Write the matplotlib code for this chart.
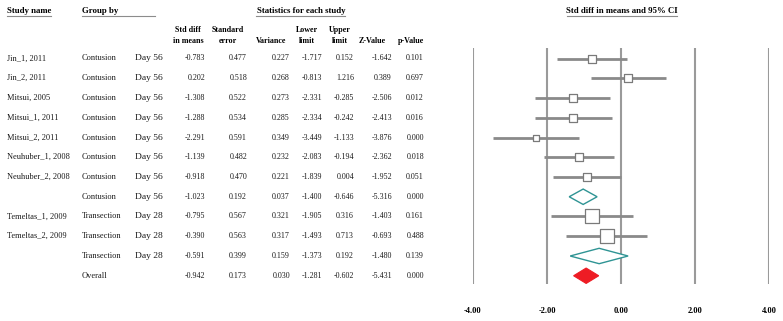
import matplotlib.pyplot as plt
from matplotlib.patches import Polygon
import numpy as np

plt.rcParams['font.family'] = ['Liberation Serif', 'DejaVu Serif']

# DATA
studies = ['Jin_1, 2011', 'Jin_2, 2011', 'Mitsui, 2005', 'Mitsui_1, 2011', 'Mitsui_2, 2011',
           'Neuhuber_1, 2008', 'Neuhuber_2, 2008', '', 'Temeltas_1, 2009', 'Temeltas_2, 2009',
           '', '']
groups = ['Contusion'] * 8 + ['Transection'] * 3 + ['Overall']
times = ['Day 56'] * 8 + ['Day 28'] * 3 + ['']
kinds = ['study'] * 7 + ['sub'] + ['study'] * 2 + ['sub', 'overall']
smd = [-0.783, 0.202, -1.308, -1.288, -2.291, -1.139, -0.918, -1.023, -0.795, -0.390, -0.591, -0.942]
se = [0.477, 0.518, 0.522, 0.534, 0.591, 0.482, 0.470, 0.192, 0.567, 0.563, 0.399, 0.173]
var = [0.227, 0.268, 0.273, 0.285, 0.349, 0.232, 0.221, 0.037, 0.321, 0.317, 0.159, 0.030]
lower = [-1.717, -0.813, -2.331, -2.334, -3.449, -2.083, -1.839, -1.400, -1.905, -1.493, -1.373, -1.281]
upper = [0.152, 1.216, -0.285, -0.242, -1.133, -0.194, 0.004, -0.646, 0.316, 0.713, 0.192, -0.602]
zval = [-1.642, 0.389, -2.506, -2.413, -3.876, -2.362, -1.952, -5.316, -1.403, -0.693, -1.480, -5.431]
pval = [0.101, 0.697, 0.012, 0.016, 0.000, 0.018, 0.051, 0.000, 0.161, 0.488, 0.139, 0.000]
xticks = [-4, -2, 0, 2, 4]

W, H = 783, 321
fig = plt.figure(figsize=(W / 100, H / 100), dpi=100)

# rows: row i sits at y = 58.5 + 19.75*i pixels from top
y0, dy = 58.5, 19.75
ylim = ((H - y0) / dy, -y0 / dy)
row = lambda ypx: (ypx - y0) / dy

tab = fig.add_axes([0, 0, 1, 1])
tab.set_xlim(0, W)
tab.set_ylim(*ylim)
tab.axis('off')

ax = fig.add_axes([473 / W, 0, (769 - 473) / W, 1])
ax.set_xlim(-4, 4)
ax.set_ylim(*ylim)
ax.axis('off')
ax.patch.set_visible(False)

# grid lines
ax.vlines(xticks, row(48), row(284), color='#9a9a9a', lw=1.5, zorder=1)
for t in xticks:
    ax.text(t, row(311), '%.2f' % t, ha='center', va='center', fontsize=6, fontweight='bold')

# relative weights within subgroup for box size
n = len(smd)
w = np.array([1 / v for v in var])
grp = np.array(groups)
kd = np.array(kinds)
rel = np.zeros(n)
for g in set(groups):
    m = (grp == g) & (kd == 'study')
    if m.any():
        rel[m] = w[m] / w[m].sum()

for i in range(n):
    if kinds[i] == 'study':
        ax.hlines(i, lower[i], upper[i], color='#8a8a8a', lw=2, zorder=2)
        px = 20.5 * np.sqrt(rel[i])
        ax.scatter([smd[i]], [i], marker='s', s=(px * 0.72) ** 2, facecolor='white',
                   edgecolor='#7a7a7a', linewidth=0.9, zorder=3)
    else:
        h = 0.39
        pts = [(lower[i], i), (smd[i], i - h), (upper[i], i), (smd[i], i + h)]
        if kinds[i] == 'overall':
            poly = Polygon(pts, closed=True, facecolor='#ee1c24', edgecolor='#ee1c24', lw=0.8, zorder=3)
        else:
            poly = Polygon(pts, closed=True, facecolor='white', edgecolor='#2f9494', lw=1.0, zorder=3)
        ax.add_patch(poly)

# table text
fs = 5.8
txt = '#1a1a1a'
cols = [(205, smd), (247, se), (290, var), (322, lower), (354, upper), (392, zval), (424, pval)]
for i in range(n):
    tab.text(7, i, studies[i], ha='left', va='center', fontsize=6, color=txt)
    tab.text(82, i, groups[i], ha='left', va='center', fontsize=6, color=txt)
    tab.text(135, i, times[i], ha='left', va='center', fontsize=6.8, color=txt)
    for x, vals in cols:
        tab.text(x, i, '%.3f' % vals[i], ha='right', va='center', fontsize=fs, color=txt)

# headers
hb = dict(fontsize=6.3, fontweight='bold', va='center')
tab.text(7, row(11), 'Study name', ha='left', **hb)
tab.text(82, row(11), 'Group by', ha='left', **hb)
tab.text(257, row(11), 'Statistics for each study', ha='left', **hb)
tab.text(622, row(11), 'Std diff in means and 95% CI', ha='center', **hb)
for x0, x1 in [(7, 51), (82, 155), (256, 345), (567, 677)]:
    tab.plot([x0, x1], [row(16), row(16)], color='#8c8c8c', lw=0.8)

hs = dict(fontsize=5.8, fontweight='bold', va='center', ha='center')
two_line = [(188, 'Std diff', 'in means'), (228, 'Standard', 'error'),
            (307, 'Lower', 'limit'), (340, 'Upper', 'limit')]
for x, a, b in two_line:
    tab.text(x, row(30.5), a, **hs)
    tab.text(x, row(41), b, **hs)
for x, a in [(271, 'Variance'), (372, 'Z-Value'), (411, 'p-Value')]:
    tab.text(x, row(41), a, **hs)

fig.savefig('out.png', dpi=100)
